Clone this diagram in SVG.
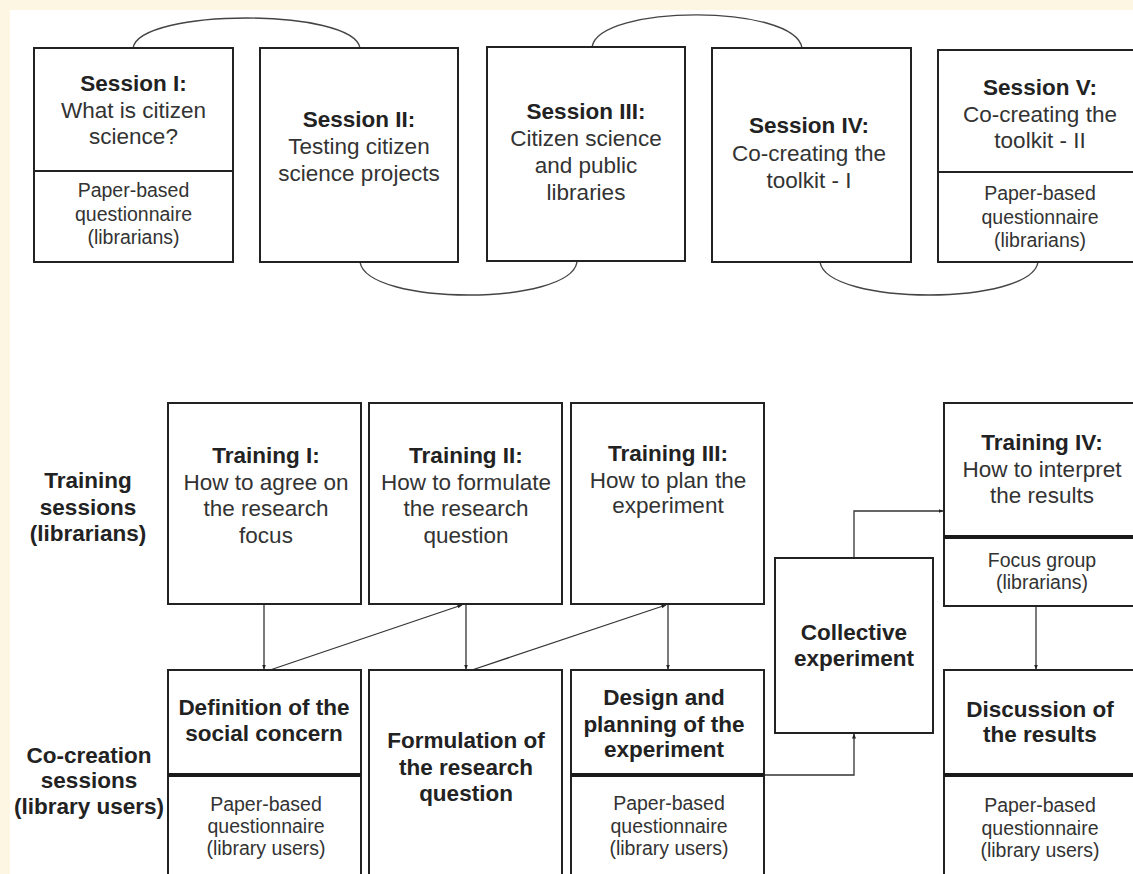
<svg xmlns="http://www.w3.org/2000/svg" width="1133" height="874" viewBox="0 0 1133 874">
<defs>
<style>
.box{fill:#fff;stroke:#222;stroke-width:2}
.div{stroke:#222;stroke-width:2}
.thick{stroke:#1a1a1a;stroke-width:4}
.arc{fill:none;stroke:#444;stroke-width:1.4}
.con{fill:none;stroke:#333;stroke-width:1.3}
text{font-family:"Liberation Sans",Arial,sans-serif;text-anchor:middle;fill:#222}
.b{font-weight:bold;font-size:22.5px}
.r{font-size:22.5px;fill:#333}
.s{font-size:19.5px;fill:#333}
</style>
<marker id="ah" viewBox="0 0 10 10" refX="9" refY="5" markerWidth="5" markerHeight="5" orient="auto" markerUnits="userSpaceOnUse">
<path d="M0,1 L10,5 L0,9 Z" fill="#222"/>
</marker>
</defs>
<rect x="0" y="0" width="1133" height="874" fill="#fdf6e3"/>
<rect x="10" y="10" width="1123" height="864" fill="#fff"/>

<g id="connectors">
<path class="arc" d="M133,48 C140,8 353,8 360,48"/>
<path class="arc" d="M592,47 C599,4 795,4 802,48"/>
<path class="arc" d="M360,262 C367,306 570,306 577,262"/>
<path class="arc" d="M820,262 C827,306 1031,306 1038,262"/>
<path class="con" d="M264,604 L264,669" marker-end="url(#ah)"/>
<path class="con" d="M270,670 L462,605" marker-end="url(#ah)"/>
<path class="con" d="M466,604 L466,669" marker-end="url(#ah)"/>
<path class="con" d="M472,670 L666,605" marker-end="url(#ah)"/>
<path class="con" d="M668,604 L668,669" marker-end="url(#ah)"/>
<path class="con" d="M764,775 L854,775 L854,734" marker-end="url(#ah)"/>
<path class="con" d="M854,558 L854,511 L943,511" marker-end="url(#ah)"/>
<path class="con" d="M1036,606 L1036,669" marker-end="url(#ah)"/>
</g>

<g id="session1">
<rect class="box" x="34" y="48" width="199" height="214"/>
<line class="div" x1="34" y1="171" x2="233" y2="171"/>
<text class="b" x="133.5" y="91">Session I:</text>
<text class="r" x="133.5" y="118">What is citizen</text>
<text class="r" x="133.5" y="144">science?</text>
<text class="s" x="133.5" y="197">Paper-based</text>
<text class="s" x="133.5" y="221">questionnaire</text>
<text class="s" x="133.5" y="244">(librarians)</text>
</g>

<g id="session2">
<rect class="box" x="260" y="48" width="198" height="214"/>
<text class="b" x="359" y="127">Session II:</text>
<text class="r" x="359" y="154">Testing citizen</text>
<text class="r" x="359" y="181">science projects</text>
</g>

<g id="session3">
<rect class="box" x="487" y="47" width="198" height="214"/>
<text class="b" x="586" y="119">Session III:</text>
<text class="r" x="586" y="146">Citizen science</text>
<text class="r" x="586" y="173">and public</text>
<text class="r" x="586" y="200">libraries</text>
</g>

<g id="session4">
<rect class="box" x="712" y="48" width="199" height="214"/>
<text class="b" x="809" y="133">Session IV:</text>
<text class="r" x="809" y="161">Co-creating the</text>
<text class="r" x="809" y="188">toolkit - I</text>
</g>

<g id="session5">
<rect class="box" x="938" y="50" width="204" height="212"/>
<line class="div" x1="938" y1="172" x2="1142" y2="172"/>
<text class="b" x="1040" y="95">Session V:</text>
<text class="r" x="1040" y="122">Co-creating the</text>
<text class="r" x="1040" y="148">toolkit - II</text>
<text class="s" x="1040" y="200">Paper-based</text>
<text class="s" x="1040" y="224">questionnaire</text>
<text class="s" x="1040" y="247">(librarians)</text>
</g>

<g id="label-training">
<text class="b" x="88" y="488">Training</text>
<text class="b" x="88" y="515">sessions</text>
<text class="b" x="88" y="541">(librarians)</text>
</g>

<g id="label-cocreation">
<text class="b" x="89" y="763">Co-creation</text>
<text class="b" x="89" y="788">sessions</text>
<text class="b" x="89" y="814">(library users)</text>
</g>

<g id="training1">
<rect class="box" x="168" y="403" width="193" height="201"/>
<text class="b" x="266" y="463">Training I:</text>
<text class="r" x="266" y="490">How to agree on</text>
<text class="r" x="266" y="516">the research</text>
<text class="r" x="266" y="543">focus</text>
</g>

<g id="training2">
<rect class="box" x="369" y="403" width="193" height="201"/>
<text class="b" x="466" y="463">Training II:</text>
<text class="r" x="466" y="490">How to formulate</text>
<text class="r" x="466" y="516">the research</text>
<text class="r" x="466" y="543">question</text>
</g>

<g id="training3">
<rect class="box" x="571" y="403" width="193" height="201"/>
<text class="b" x="668" y="461">Training III:</text>
<text class="r" x="668" y="488">How to plan the</text>
<text class="r" x="668" y="513">experiment</text>
</g>

<g id="collective">
<rect class="box" x="775" y="558" width="158" height="175"/>
<text class="b" x="854" y="640">Collective</text>
<text class="b" x="854" y="666">experiment</text>
</g>

<g id="training4">
<rect class="box" x="944" y="403" width="200" height="203"/>
<line class="thick" x1="944" y1="537" x2="1144" y2="537"/>
<text class="b" x="1042" y="450">Training IV:</text>
<text class="r" x="1042" y="477">How to interpret</text>
<text class="r" x="1042" y="503">the results</text>
<text class="s" x="1042" y="567">Focus group</text>
<text class="s" x="1042" y="589">(librarians)</text>
</g>

<g id="definition">
<rect class="box" x="168" y="670" width="193" height="215"/>
<line class="thick" x1="168" y1="775" x2="361" y2="775"/>
<text class="b" x="264" y="715">Definition of the</text>
<text class="b" x="264" y="741">social concern</text>
<text class="s" x="266" y="811">Paper-based</text>
<text class="s" x="266" y="833">questionnaire</text>
<text class="s" x="266" y="855">(library users)</text>
</g>

<g id="formulation">
<rect class="box" x="369" y="670" width="193" height="215"/>
<text class="b" x="466" y="748">Formulation of</text>
<text class="b" x="466" y="775">the research</text>
<text class="b" x="466" y="801">question</text>
</g>

<g id="design">
<rect class="box" x="571" y="670" width="193" height="215"/>
<line class="thick" x1="571" y1="775" x2="764" y2="775"/>
<text class="b" x="664" y="705">Design and</text>
<text class="b" x="664" y="732">planning of the</text>
<text class="b" x="664" y="757">experiment</text>
<text class="s" x="669" y="810">Paper-based</text>
<text class="s" x="669" y="833">questionnaire</text>
<text class="s" x="669" y="855">(library users)</text>
</g>

<g id="discussion">
<rect class="box" x="944" y="670" width="200" height="215"/>
<line class="thick" x1="944" y1="775" x2="1144" y2="775"/>
<text class="b" x="1040" y="717">Discussion of</text>
<text class="b" x="1040" y="742">the results</text>
<text class="s" x="1040" y="812">Paper-based</text>
<text class="s" x="1040" y="835">questionnaire</text>
<text class="s" x="1040" y="857">(library users)</text>
</g>
</svg>
